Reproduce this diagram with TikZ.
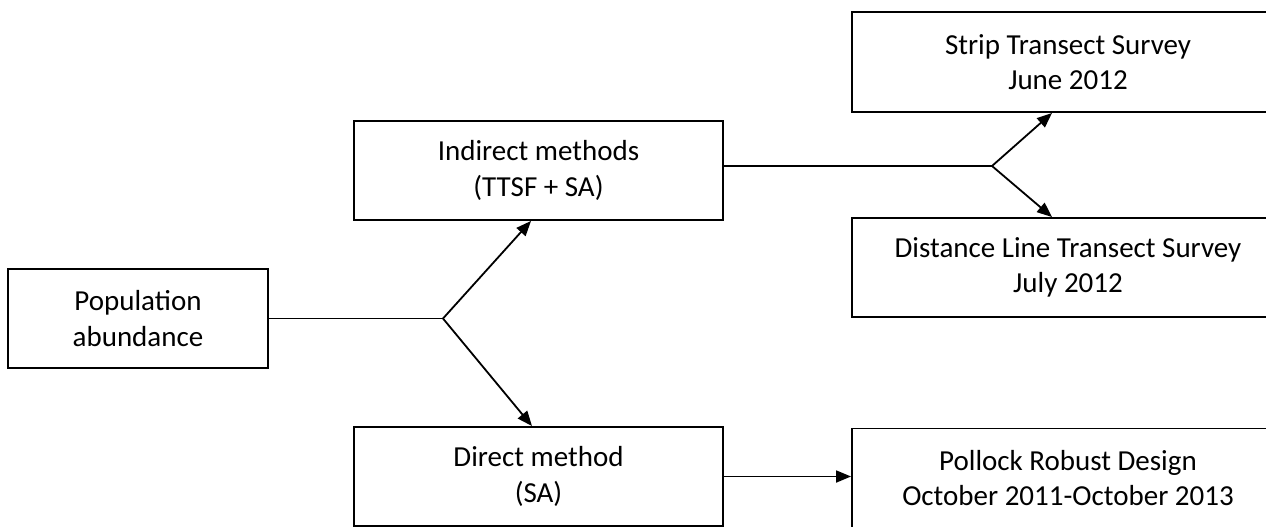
\documentclass[tikz,border=0pt]{standalone}
\usepackage{fontspec}
\setmainfont{Carlito}
\usetikzlibrary{arrows.meta,calc}
\begin{document}
\begin{tikzpicture}[x=1pt,y=-1pt,
  box/.style={draw, line width=1.9pt, rectangle, align=center, inner sep=0pt,
    font=\fontsize{29}{35.5}\selectfont},
  conn/.style={line width=1.8pt},
  arr/.style={conn, -{Triangle[length=15pt,width=12pt]}}]
\useasboundingbox (0,0) rectangle (1266,527);
\clip (0,0) rectangle (1266,527);
\node[box, minimum width=260pt, minimum height=99pt] (pop) at (138,318.5) {Population\\abundance};
\node[box, minimum width=369pt, minimum height=99pt] (ind) at (538.5,170.5) {Indirect methods\\(TTSF + SA)};
\node[box, minimum width=369pt, minimum height=99pt] (dir) at (538.5,476.5) {Direct method\\(SA)};
\node[box, minimum width=432pt, minimum height=100pt] (str) at (1068,62) {Strip Transect Survey\\June 2012};
\node[box, minimum width=432pt, minimum height=99pt] (dis) at (1068,267.5) {Distance Line Transect Survey\\July 2012};
\node[box, minimum width=432pt, minimum height=99pt] (pol) at (1068,478) {Pollock Robust Design\\October 2011-October 2013};
\coordinate (b1) at (443,318.5);
\coordinate (s2) at ($(ind.east)+(0,-4.5)$);
\coordinate (b2) at (992,166);
\coordinate (t1) at ($(ind.south)+(-7.5,0)$);
\coordinate (t2) at ($(dir.north)+(-6.5,0)$);
\coordinate (t3) at ($(str.south)+(-16,0)$);
\coordinate (t4) at ($(dis.north)+(-16,0)$);
\draw[conn] (pop.east) -- (b1);
\draw[arr] (b1) -- (t1);
\draw[arr] (b1) -- (t2);
\draw[conn] (s2) -- (b2);
\draw[arr] (b2) -- (t3);
\draw[arr] (b2) -- (t4);
\draw[arr] (dir.east) -- (dir.east -| pol.west);
\end{tikzpicture}
\end{document}
